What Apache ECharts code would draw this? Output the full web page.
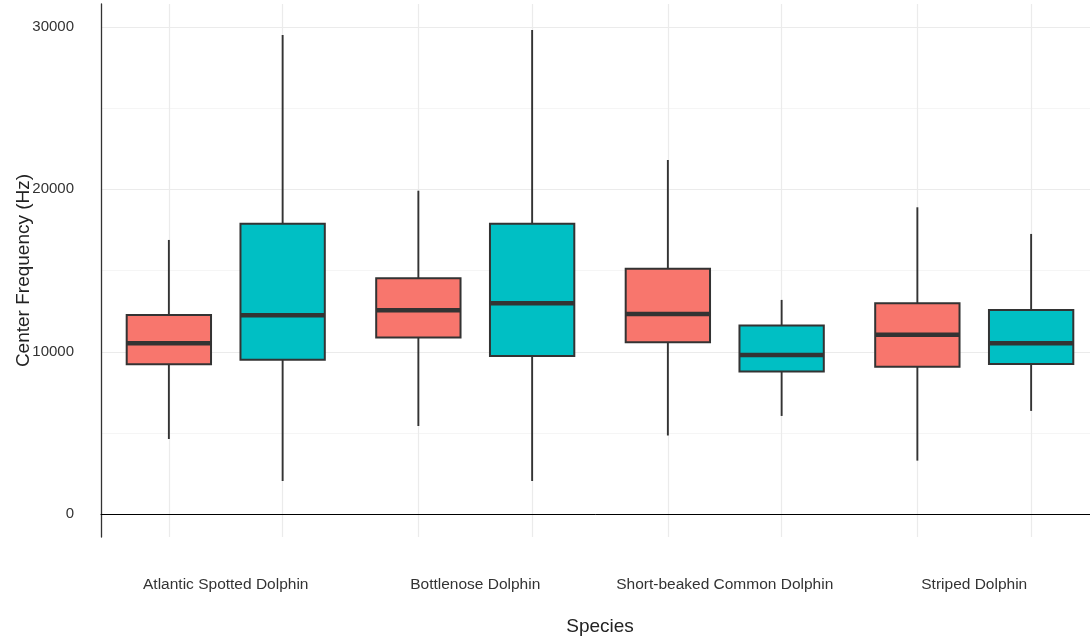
<!DOCTYPE html>
<html>
<head>
<meta charset="utf-8">
<script src="https://cdn.jsdelivr.net/npm/echarts@6/dist/echarts.min.js"></script>
<style>
  html, body { margin: 0; padding: 0; background: #fff; }
  #chart { width: 1090px; height: 638px; }
</style>
</head>
<body>
<div id="chart"></div>
<script>
const species = ['Atlantic Spotted Dolphin', 'Bottlenose Dolphin', 'Short-beaked Common Dolphin', 'Striped Dolphin'];

// each row: [min, Q1, median, Q3, max]
const redBoxes = [
    [4630, 9230, 10520, 12260, 16880],
    [5430, 10870, 12550, 14520, 19910],
    [4840, 10590, 12330, 15110, 21800],
    [3300, 9080, 11050, 12990, 18890]
];
const tealBoxes = [
    [2050, 9510, 12250, 17870, 29500],
    [2050, 9740, 12990, 17870, 29800],
    [6050, 8780, 9800, 11610, 13190],
    [6360, 9250, 10520, 12570, 17250]
];

const yTicks = [0, 10000, 20000, 30000];
const yMinorTicks = [5000, 15000, 25000];

// dodge offset and box width, as a share of one category band
const DODGE = 0.228;
const BOX = 0.338;

const boxCentres = [];
species.forEach((s, i) => { boxCentres.push(i - DODGE, i + DODGE); });

function boxRenderer(side, fill) {
    return function (params, api) {
        const cat = api.value(0);
        const band = api.size([1, 0])[0];
        const x = api.coord([cat, 0])[0] + side * DODGE * band;
        const half = BOX * band / 2;
        const y = i => api.coord([cat, api.value(i)])[1];
        const yMin = y(1), yQ1 = y(2), yMed = y(3), yQ3 = y(4), yMax = y(5);
        return {
            type: 'group',
            children: [
                {
                    type: 'line',
                    shape: { x1: x, y1: yMax, x2: x, y2: yMin },
                    style: { stroke: '#333333', lineWidth: 1.9 }
                },
                {
                    type: 'rect',
                    shape: { x: x - half, y: yQ3, width: half * 2, height: yQ1 - yQ3 },
                    style: { fill: fill, stroke: '#333333', lineWidth: 2 }
                },
                {
                    type: 'line',
                    shape: { x1: x - half, y1: yMed, x2: x + half, y2: yMed },
                    style: { stroke: '#333333', lineWidth: 4.5 }
                }
            ]
        };
    };
}

const chart = echarts.init(document.getElementById('chart'));
const textFont = 'Liberation Sans, Arial, sans-serif';

chart.setOption({
    animation: false,
    grid: { left: 101, right: -9, top: 4, bottom: 101, outerBoundsMode: 'none' },
    xAxis: [
        {
            type: 'category',
            data: species,
            axisLine: { onZero: true, lineStyle: { color: '#000', width: 1 } },
            axisTick: { show: false },
            axisLabel: { interval: 0, margin: 40, fontSize: 15.5, color: '#333', fontFamily: textFont },
            splitLine: { show: false },
            name: 'Species',
            nameLocation: 'middle',
            nameGap: 80,
            nameTextStyle: { fontSize: 19, color: '#222', fontFamily: textFont }
        },
        {
            type: 'value',
            min: -0.5,
            max: 3.5,
            position: 'bottom',
            axisLine: { show: false, onZero: false },
            axisTick: { show: false, customValues: boxCentres },
            axisLabel: { show: false },
            splitLine: { show: true, lineStyle: { color: '#ebebeb', width: 1.2 } }
        }
    ],
    yAxis: [
        {
            type: 'value',
            min: -1400,
            max: 31400,
            axisLine: { show: true, onZero: false, lineStyle: { color: '#333', width: 1.3 } },
            axisTick: { show: false, customValues: yTicks },
            axisLabel: {
                customValues: yTicks,
                formatter: v => String(v),
                margin: 27,
                fontSize: 15,
                color: '#333',
                fontFamily: textFont
            },
            splitLine: { show: true, lineStyle: { color: '#ebebeb', width: 1.2 } },
            name: 'Center Frequency (Hz)',
            nameLocation: 'middle',
            nameGap: 68,
            nameMoveOverlap: false,
            nameTextStyle: { fontSize: 19, color: '#222', fontFamily: textFont }
        },
        {
            type: 'value',
            min: -1400,
            max: 31400,
            position: 'left',
            axisLine: { show: false, onZero: false },
            axisTick: { show: false, customValues: yMinorTicks },
            axisLabel: { show: false },
            splitLine: { show: true, lineStyle: { color: '#f5f5f5', width: 1 } }
        }
    ],
    series: [
        {
            name: 'red',
            type: 'custom',
            renderItem: boxRenderer(-1, '#F8766D'),
            encode: { x: 0, y: [1, 2, 3, 4, 5] },
            data: redBoxes.map((b, i) => [i].concat(b))
        },
        {
            name: 'teal',
            type: 'custom',
            renderItem: boxRenderer(1, '#00BFC4'),
            encode: { x: 0, y: [1, 2, 3, 4, 5] },
            data: tealBoxes.map((b, i) => [i].concat(b))
        }
    ]
});
</script>
</body>
</html>
